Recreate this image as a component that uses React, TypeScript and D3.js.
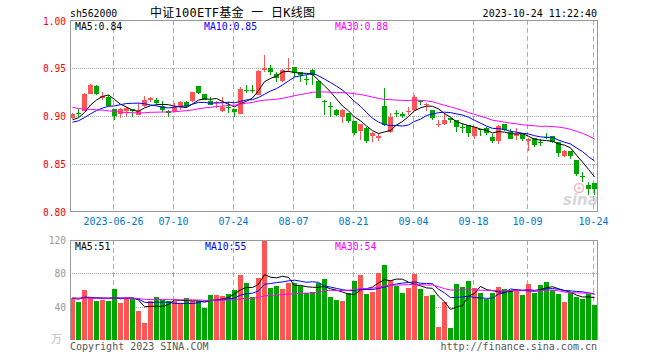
import React from "react";
import * as d3 from "d3";

// ---------- data ----------
const openP = [0.8976,0.9035,0.9056,0.9229,0.9313,0.9190,0.9194,0.9069,0.9021,0.9049,
  0.9069,0.9014,0.9104,0.9167,0.9167,0.9104,0.9052,0.9052,0.9097,0.9146,
  0.9153,0.9313,0.9229,0.9160,0.9132,0.9052,0.9097,0.9069,0.9028,0.9271,
  0.9271,0.9219,0.9476,0.9497,0.9438,0.9368,0.9483,0.9507,0.9455,0.9389,
  0.9479,0.9368,0.9160,0.9108,0.9063,0.8993,0.9028,0.8948,0.8837,0.8878,
  0.8785,0.8767,0.9104,0.8833,0.9035,0.9017,0.9045,0.9063,0.9160,0.9108,
  0.9063,0.8913,0.8920,0.8976,0.8958,0.8885,0.8906,0.8785,0.8861,0.8871,
  0.8785,0.8743,0.8917,0.8837,0.8785,0.8809,0.8733,0.8767,0.8726,0.8785,
  0.8788,0.8729,0.8583,0.8632,0.8542,0.8378,0.8281,0.8299];
const highP = [0.9030,0.9075,0.9240,0.9330,0.9320,0.9250,0.9220,0.9072,0.9080,0.9090,
  0.9072,0.9132,0.9210,0.9201,0.9191,0.9155,0.9060,0.9132,0.9156,0.9156,
  0.9250,0.9316,0.9232,0.9194,0.9156,0.9198,0.9149,0.9072,0.9306,0.9323,
  0.9323,0.9480,0.9635,0.9531,0.9462,0.9486,0.9601,0.9510,0.9462,0.9427,
  0.9486,0.9372,0.9163,0.9149,0.9073,0.9073,0.9031,0.8951,0.8920,0.8882,
  0.8837,0.8819,0.9288,0.9031,0.9063,0.9045,0.9097,0.9219,0.9167,0.9132,
  0.9066,0.8958,0.9028,0.8980,0.8962,0.8924,0.8910,0.8890,0.8865,0.8882,
  0.8812,0.8906,0.8920,0.8861,0.8872,0.8812,0.8774,0.8771,0.8757,0.8819,
  0.8792,0.8733,0.8642,0.8635,0.8545,0.8417,0.8316,0.8302];
const lowP = [0.8965,0.8985,0.9050,0.9225,0.9215,0.9170,0.9100,0.8958,0.8980,0.8993,
  0.8993,0.9010,0.9097,0.9150,0.9115,0.9045,0.8993,0.9045,0.9063,0.9080,
  0.9150,0.9226,0.9167,0.9111,0.9087,0.9045,0.9035,0.8993,0.9021,0.9243,
  0.9236,0.9215,0.9462,0.9427,0.9358,0.9358,0.9462,0.9410,0.9358,0.9323,
  0.9323,0.9184,0.9010,0.8993,0.9000,0.8931,0.8924,0.8802,0.8750,0.8715,
  0.8733,0.8743,0.8896,0.8826,0.8993,0.8976,0.9010,0.9056,0.9115,0.9055,
  0.8958,0.8885,0.8910,0.8924,0.8837,0.8819,0.8778,0.8760,0.8792,0.8806,
  0.8722,0.8708,0.8847,0.8760,0.8750,0.8740,0.8635,0.8674,0.8688,0.8757,
  0.8722,0.8569,0.8576,0.8549,0.8375,0.8313,0.8177,0.8177];
const closeP = [0.9021,0.9030,0.9229,0.9323,0.9229,0.9210,0.9104,0.9000,0.9069,0.9083,
  0.9045,0.9052,0.9167,0.9191,0.9132,0.9063,0.9035,0.9094,0.9146,0.9104,
  0.9247,0.9236,0.9167,0.9115,0.9146,0.9094,0.9087,0.9035,0.9285,0.9268,
  0.9265,0.9469,0.9500,0.9455,0.9392,0.9479,0.9497,0.9444,0.9420,0.9382,
  0.9427,0.9191,0.9153,0.9104,0.9010,0.9063,0.8941,0.8826,0.8913,0.8740,
  0.8819,0.8792,0.8906,0.8990,0.9028,0.8997,0.9052,0.9201,0.9146,0.9122,
  0.8983,0.8920,0.8958,0.8951,0.8889,0.8878,0.8826,0.8882,0.8847,0.8819,
  0.8743,0.8896,0.8854,0.8767,0.8809,0.8760,0.8757,0.8698,0.8722,0.8781,
  0.8729,0.8618,0.8632,0.8583,0.8396,0.8372,0.8240,0.8240];
const volume = [50,46,60,50,46.8,48,46.8,61.2,44.4,50.8,
  49.2,34.8,20.4,46.8,51.6,48,46.8,46.8,44.4,50.4,
  46.8,46.8,38.8,54,54,52.8,55.6,60,78.4,68.8,
  52,74.6,118.8,62.8,64.8,61.2,68.4,68.8,65.2,56,
  58,68.4,73.2,51.6,48,46.8,56,70.8,78.4,55.2,
  57.6,80.4,90.4,72,65.2,56.8,62.4,79.6,61.2,52.8,
  54,15.6,46,14.8,67.6,63.6,70.8,62.8,56.8,48.8,
  56.8,63.6,61.2,60,58.8,54,67.2,56.8,66,69.6,
  60,55.2,45.6,56.8,51.6,49.2,55.2,42];
// closes / volumes before the first visible day (inferred from where the MA lines start)
const priorClose = [0.940,0.945,0.938,0.935,0.930,0.932,0.925,0.920,0.922,0.915,
  0.912,0.910,0.905,0.908,0.903,0.900,0.902,0.898,0.895,0.900,
  0.888,0.890,0.893,0.889,0.895,0.892,0.896,0.893,0.897];
const priorVolume = [52,49,51,50,48,53,50,47,52,51,49,50,54,48,50,51,49,52,50,48,
  51,50,53,49,50,52,48,51,50];

const tickIndex = [7,17,27,37,47,57,67,76,87];
const tickLabel = ["2023-06-26","07-10","07-24","08-07","08-21","09-04","09-18","10-09","10-24"];
const priceTicks = [0.80,0.85,0.90,0.95,1.00];
const volTicks = [40,80,120];
const priceMaText = ["MA5:0.84","MA10:0.85","MA30:0.88"];
const volMaText = ["MA5:51","MA10:55","MA30:54"];
const maPeriods = [5,10,30];
const maColors = ["#000000","#0000ff","#ff00ff"];

const W = 660, H = 360;
const L = 70, R = 597, PT = 20, PB = 212, VT = 240, VB = 340;
const RED = "#ff5555", GREEN = "#00a600";
const MONO = "'DejaVu Sans Mono', 'Liberation Mono', monospace";

function movingAvg(prior: number[], series: number[], n: number): number[] {
  const full = prior.concat(series);
  const P = prior.length;
  return series.map((_, i) => d3.mean(full.slice(i + P - n + 1, i + P + 1)) as number);
}

export default function App() {
  const n = closeP.length;
  const x = d3.scaleLinear().domain([0, n - 1]).range([72.5, 72.5 + 6 * (n - 1)]);
  const y = d3.scaleLinear().domain([0.8, 1.0]).range([PB, PT]);
  const yv = d3.scaleLinear().domain([0, 120]).range([VB, VT]);

  const priceMA = maPeriods.map((p) => movingAvg(priorClose, closeP, p));
  const volMA = maPeriods.map((p) => movingAvg(priorVolume, volume, p));
  const pLine = d3.line<number>().x((_, i) => x(i)).y((d) => y(d));
  const vLine = d3.line<number>().x((_, i) => x(i)).y((d) => yv(d));

  const gridX = tickIndex.map((i) => Math.round(x(i) - 2) + 0.5);
  const crisp = (v: number) => Math.round(v) + 0.5;

  return (
    <svg width={W} height={H} style={{ position: "fixed", left: 0, top: 0, background: "#fff" }}
      fontFamily={MONO}>
      <rect x={0} y={0} width={W} height={H} fill="#fff" />
      {/* header */}
      <text x={70} y={16.5} fontSize={9.8} fill="#000">sh562000</text>
      <text x={150} y={16.5} fontSize={12} fill="#000" textLength={165} lengthAdjust="spacing"
        fontFamily="'DejaVu Sans Mono', 'Noto Sans CJK SC', monospace" style={{ whiteSpace: "pre" }}>
        中证100ETF基金 一 日K线图
      </text>
      <text x={597} y={16.5} fontSize={10} textAnchor="end" fill="#000">2023-10-24 11:22:40</text>

      {/* price grid */}
      {priceTicks.slice(1, 4).map((t) => (
        <line key={t} x1={L} x2={R} y1={crisp(y(t))} y2={crisp(y(t))} stroke="#a8a8a8"
          strokeDasharray="1,1" />
      ))}
      {gridX.map((gx, k) => (
        <line key={k} x1={gx} x2={gx} y1={PT} y2={PB} stroke="#aaaaaa" strokeDasharray="5,3" />
      ))}
      {/* price labels */}
      {priceTicks.map((t) => (
        <text key={t} x={66} y={t === 1 ? 25 : y(t) + 4} fontSize={9.6} fill="#ff0000" textAnchor="end">
          {t.toFixed(2)}
        </text>
      ))}
      {/* sina watermark */}
      <g opacity={0.55}>
        <circle cx={579} cy={188} r={4.5} fill="none" stroke="#f08080" strokeWidth={1.5} />
        <circle cx={579} cy={188} r={1.5} fill="#f08080" />
        <text x={563} y={205} fontSize={15} fontWeight="bold" fontStyle="italic" fill="#b8b8b8"
          fontFamily="'DejaVu Sans', sans-serif">sina</text>
      </g>
      {/* candles */}
      {closeP.map((c, i) => {
        const o = openP[i];
        const up = c >= o;
        const col = up ? RED : GREEN;
        const cx = x(i);
        const top = y(Math.max(o, c));
        const h = Math.max(1, Math.abs(y(o) - y(c)));
        return (
          <g key={i} shapeRendering="crispEdges">
            <line x1={cx} x2={cx} y1={y(highP[i])} y2={y(lowP[i])} stroke={col} />
            <rect x={cx - 2.5} y={Math.round(top)} width={5} height={Math.round(h) || 1} fill={col} />
          </g>
        );
      })}
      {/* price MAs */}
      {priceMA.map((m, k) => (
        <path key={k} d={pLine(m) || ""} fill="none" stroke={maColors[k]} strokeWidth={1} />
      ))}
      {/* price frame */}
      <rect x={L + 0.5} y={PT + 0.5} width={R - L} height={PB - PT - 1} fill="none" stroke="#999" />
      {priceMaText.map((t, k) => (
        <text key={t} x={[75, 204, 335][k]} y={29.5} fontSize={9.8} fill={maColors[k]}>{t}</text>
      ))}
      {/* x labels */}
      {tickLabel.map((t, k) => (
        <text key={t} x={gridX[k]} y={225} fontSize={10} fill="#0077cc" textAnchor="middle">{t}</text>
      ))}

      {/* volume grid */}
      {volTicks.slice(0, 2).map((t) => (
        <line key={t} x1={L} x2={R} y1={crisp(yv(t))} y2={crisp(yv(t))} stroke="#a8a8a8"
          strokeDasharray="1,1" />
      ))}
      {gridX.map((gx, k) => (
        <line key={k} x1={gx} x2={gx} y1={VT} y2={VB} stroke="#aaaaaa" strokeDasharray="5,3" />
      ))}
      {volTicks.map((t) => (
        <text key={t} x={66} y={yv(t) + 4} fontSize={9.6} fill="#999" textAnchor="end">{t}</text>
      ))}
      <text x={51} y={343} fontSize={11} fill="#c0c0c0" fontFamily="'Noto Sans CJK SC', sans-serif">万</text>
      {/* volume bars */}
      {volume.map((v, i) => {
        const up = closeP[i] >= openP[i];
        return (
          <rect key={i} x={x(i) - 2.5} y={Math.round(yv(v))} width={5} height={VB - Math.round(yv(v))}
            fill={up ? RED : GREEN} shapeRendering="crispEdges" />
        );
      })}
      {volMA.map((m, k) => (
        <path key={k} d={vLine(m) || ""} fill="none" stroke={maColors[k]} strokeWidth={1} />
      ))}
      <line x1={L} x2={R + 0.5} y1={VT + 0.5} y2={VT + 0.5} stroke="#999" />
      <line x1={L + 0.5} x2={L + 0.5} y1={VT} y2={VB} stroke="#999" />
      <line x1={R + 0.5} x2={R + 0.5} y1={VT} y2={VB} stroke="#999" />
      {volMaText.map((t, k) => (
        <text key={t} x={[75, 205, 335][k]} y={249.5} fontSize={9.8} fill={maColors[k]}>{t}</text>
      ))}
      {/* footer */}
      <text x={70} y={349.5} fontSize={10} fill="#555">Copyright 2023 SINA.COM</text>
      <text x={597} y={349.5} fontSize={10} fill="#555" textAnchor="end">http://finance.sina.com.cn</text>
    </svg>
  );
}
